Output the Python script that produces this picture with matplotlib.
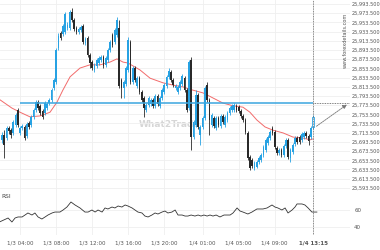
import numpy as np
import matplotlib.pyplot as plt
from matplotlib.patches import FancyArrowPatch
from matplotlib.ticker import FixedLocator, FuncFormatter

# 15-minute candles, 1/3 02:00 -> 1/4 13:15
opens = [25698, 25708, 25702, 25724, 25719, 25713, 25730, 25763, 25713, 25724,
         25726, 25706, 25735, 25730, 25748, 25763, 25780, 25772, 25761, 25756,
         25767, 25778, 25785, 25811, 25824, 25898, 25930, 25928, 25932, 25941,
         25941, 25976, 25959, 25941, 25932, 25937, 25945, 25909, 25919, 25882,
         25867, 25850, 25858, 25865, 25872, 25878, 25861, 25872, 25893, 25926,
         25911, 25926, 25941, 25828, 25811, 25819, 25850, 25911, 25824, 25854,
         25815, 25832, 25802, 25789, 25763, 25774, 25776, 25785, 25772, 25793,
         25772, 25789, 25802, 25815, 25835, 25845, 25828, 25811, 25802, 25811,
         25819, 25832, 25806, 25767, 25872, 25704, 25730, 25795, 25708, 25726,
         25745, 25817, 25785, 25730, 25745, 25724, 25745, 25728, 25750, 25730,
         25741, 25756, 25763, 25763, 25772, 25769, 25761, 25750, 25741, 25713,
         25661, 25654, 25637, 25639, 25650, 25654, 25665, 25676, 25691, 25702,
         25724, 25715, 25680, 25669, 25676, 25665, 25685, 25698, 25658, 25672,
         25689, 25702, 25704, 25698, 25704, 25713, 25706, 25704, 25726]
closes = [25708, 25687, 25724, 25717, 25708, 25737, 25752, 25730, 25724, 25728,
          25702, 25732, 25726, 25748, 25763, 25780, 25767, 25756, 25748, 25778,
          25776, 25785, 25806, 25828, 25893, 25924, 25919, 25945, 25972, 25948,
          25976, 25959, 25939, 25932, 25939, 25943, 25911, 25917, 25882, 25865,
          25854, 25861, 25872, 25876, 25878, 25858, 25876, 25893, 25911, 25904,
          25937, 25959, 25815, 25811, 25824, 25854, 25915, 25824, 25854, 25828,
          25832, 25802, 25785, 25767, 25774, 25789, 25785, 25772, 25793, 25776,
          25789, 25806, 25817, 25835, 25848, 25828, 25817, 25815, 25813, 25824,
          25837, 25806, 25763, 25867, 25704, 25737, 25795, 25726, 25726, 25745,
          25811, 25785, 25741, 25752, 25728, 25745, 25730, 25750, 25737, 25748,
          25756, 25767, 25772, 25774, 25763, 25761, 25750, 25741, 25715, 25658,
          25637, 25641, 25648, 25650, 25658, 25665, 25682, 25698, 25704, 25715,
          25713, 25682, 25669, 25676, 25665, 25685, 25698, 25661, 25676, 25687,
          25702, 25693, 25693, 25711, 25713, 25706, 25695, 25724, 25748]
highs = [25715, 25719, 25728, 25728, 25724, 25741, 25756, 25767, 25728, 25732,
         25730, 25737, 25739, 25752, 25767, 25785, 25785, 25776, 25765, 25782,
         25780, 25789, 25811, 25832, 25898, 25930, 25935, 25950, 25976, 25954,
         25980, 25985, 25963, 25945, 25943, 25948, 25950, 25922, 25924, 25887,
         25872, 25865, 25876, 25880, 25882, 25882, 25880, 25898, 25915, 25930,
         25941, 25965, 25959, 25832, 25828, 25858, 25922, 25915, 25858, 25858,
         25837, 25837, 25806, 25793, 25778, 25793, 25789, 25789, 25798, 25798,
         25793, 25811, 25822, 25839, 25854, 25850, 25832, 25819, 25817, 25828,
         25841, 25837, 25811, 25872, 25878, 25741, 25806, 25800, 25730, 25750,
         25815, 25824, 25789, 25756, 25750, 25750, 25750, 25754, 25754, 25752,
         25761, 25772, 25776, 25778, 25776, 25774, 25765, 25754, 25745, 25717,
         25665, 25658, 25652, 25654, 25663, 25669, 25687, 25702, 25708, 25719,
         25728, 25719, 25685, 25680, 25680, 25689, 25702, 25702, 25680, 25691,
         25706, 25706, 25708, 25715, 25717, 25717, 25711, 25728, 25752]
lows = [25691, 25658, 25698, 25711, 25702, 25708, 25726, 25726, 25708, 25719,
        25698, 25702, 25722, 25726, 25743, 25758, 25763, 25752, 25743, 25752,
        25763, 25774, 25780, 25806, 25819, 25893, 25915, 25924, 25928, 25937,
        25937, 25954, 25935, 25928, 25928, 25932, 25906, 25904, 25878, 25854,
        25850, 25845, 25854, 25861, 25867, 25854, 25856, 25867, 25889, 25900,
        25906, 25922, 25811, 25789, 25789, 25815, 25845, 25819, 25819, 25824,
        25811, 25798, 25780, 25748, 25758, 25769, 25772, 25767, 25767, 25772,
        25767, 25785, 25798, 25811, 25830, 25824, 25813, 25806, 25798, 25806,
        25815, 25802, 25758, 25763, 25676, 25700, 25726, 25722, 25687, 25722,
        25741, 25780, 25708, 25726, 25724, 25719, 25726, 25724, 25732, 25726,
        25737, 25752, 25758, 25758, 25758, 25756, 25745, 25737, 25711, 25654,
        25632, 25637, 25632, 25637, 25645, 25650, 25661, 25672, 25687, 25698,
        25708, 25678, 25665, 25665, 25661, 25661, 25680, 25656, 25650, 25667,
        25685, 25689, 25689, 25693, 25700, 25702, 25687, 25700, 25722]

# moving average (candle index, price)
ma_idx = [-0.9, 4.4, 8, 12.4, 16.9, 21.3, 24.4, 27, 30.2, 34.6, 39, 43.5, 47.9,
          51, 53.7, 55.9, 61.2, 65.7, 71.4, 75.9, 80.3, 84.7, 89.2, 93.6, 98,
          102.5, 106.9, 110, 113.1, 116.7, 120.2, 124.7, 129.1, 133.5, 136.6, 138]
ma_val = [25785, 25767, 25758, 25748, 25750, 25758, 25780, 25806, 25835, 25854,
          25861, 25861, 25867, 25874, 25867, 25865, 25850, 25832, 25822, 25817,
          25813, 25806, 25800, 25789, 25778, 25772, 25769, 25758, 25741, 25726,
          25719, 25713, 25704, 25702, 25698, 25700]

# RSI (candle index, value)
rsi_idx = [-0.9, 2.7, 4.4, 5.8, 7.1, 8.9, 10.2, 11.5, 13.3, 14.6, 16, 17.7, 19.1,
           20.4, 22.2, 23.5, 25.7, 27.1, 28.8, 30.6, 32.4, 34.6, 36.8, 38.2, 39.9,
           41.3, 42.6, 44.4, 45.7, 47, 48.8, 50.1, 51.5, 53.2, 54.6, 55.9, 57.7,
           59, 60.3, 62.1, 63.4, 64.8, 66.5, 67.9, 69.2, 71, 72.3, 73.6, 75.4,
           76.8, 78.1, 79.9, 81.2, 82.5, 83.9, 85.6, 87, 88.3, 89.6, 91, 92.3,
           93.6, 95, 96.7, 98.5, 101.2, 102.5, 104.3, 105.6, 106.9, 109.1, 110.9,
           113.1, 115.8, 117.6, 119.8, 121.1, 122.4, 124.2, 125.6, 126.9, 128.7,
           130, 130.9, 133.1, 134.4, 135.8, 137.5, 139.7]
rsi_val = [46.2, 50.6, 45.9, 50.6, 51.8, 51.8, 54.1, 56.5, 54.1, 56.5, 51.8, 49.4,
           51.8, 54.1, 56.5, 57.6, 57.6, 60, 63.5, 69.4, 65.9, 62.4, 57.6, 57.6,
           60, 57.6, 60, 57.6, 62.4, 61.2, 63.5, 62.4, 64.7, 63.5, 65.9, 64.7,
           62.4, 60, 57.6, 56.5, 52.9, 51.8, 54.1, 56.5, 55.3, 57.6, 58.8, 56.5,
           57.6, 60, 54.1, 54.1, 52.9, 52.9, 54.1, 52.9, 54.1, 52.9, 54.1, 52.9,
           54.1, 52.9, 54.1, 51.8, 54.1, 54.1, 56.5, 62.4, 58.8, 57.6, 55.3, 57.6,
           61.2, 61.2, 62.4, 65.9, 63.5, 62.4, 60, 62.4, 56.5, 60, 63.5, 67.1,
           67.1, 65.9, 62.4, 57.6, 57.6]

level = 25778
price_ticks = [25593.5 + 20 * k for k in range(21)]
time_pos = [8, 24, 40, 56, 72, 89, 105, 121, 138]
time_labels = ["1/3 04:00", "1/3 08:00", "1/3 12:00", "1/3 16:00", "1/3 20:00",
               "1/4 01:00", "1/4 05:00", "1/4 09:00", "1/4 13:15"]

blue = "#27a2e3"
dark = "#2a2a2a"

fig = plt.figure(figsize=(3.8, 2.5), dpi=100)
ax = fig.add_axes([0, 57 / 250, 350 / 380, 193 / 250])
rax = fig.add_axes([0, 15 / 250, 350 / 380, 42 / 250], sharex=ax)

o = np.array(opens)
c = np.array(closes)
x = np.arange(len(o))
up = c >= o
colors = np.where(up, blue, dark)
ax.vlines(x, lows, highs, colors=colors, linewidth=0.6, zorder=3)
body_lo = np.minimum(o, c)
body_h = np.maximum(np.abs(c - o), 1.5)
ax.bar(x[:-1], body_h[:-1], bottom=body_lo[:-1], width=0.75,
       color=colors[:-1], linewidth=0, zorder=4)
# last candle is still open: hollow
ax.bar(x[-1:], body_h[-1:], bottom=body_lo[-1:], width=0.75,
       facecolor="white", edgecolor=blue, linewidth=0.6, zorder=4)

ax.plot(ma_idx, ma_val, color="#f26b6b", linewidth=0.7, zorder=2)

last = x[-1]
ax.hlines(level, 8, last, color="#3aa6df", linewidth=1.1, zorder=5)
ax.hlines(level, last, 155, color="#555555", linewidth=0.6,
          linestyles=(0, (1, 1)), zorder=5)
arrow = FancyArrowPatch((last + 0.5, closes[-1] - 24), (154, level),
                        arrowstyle="-|>", color="#777777", lw=0.6,
                        linestyle=(0, (2, 1)), mutation_scale=6, zorder=6)
ax.add_patch(arrow)

for a in (ax, rax):
    a.axvline(last, color="#666666", linewidth=0.6, linestyle=(0, (1, 1)), zorder=6)
    for s in a.spines.values():
        s.set_visible(False)
    a.set_xlim(-0.89, 154.4)
    a.yaxis.tick_right()
    a.tick_params(axis="both", length=0, labelsize=3.6, labelcolor="#555555", pad=1.5)
    a.xaxis.set_major_locator(FixedLocator(time_pos))
    a.grid(True, color="#efefef", linewidth=0.6, zorder=0)

ax.set_ylim(25582.4, 26002)
ax.yaxis.set_major_locator(FixedLocator(price_ticks))
ax.yaxis.set_major_formatter(FuncFormatter(lambda v, p: f"{v:,.3f}"))
ax.tick_params(axis="x", labelbottom=False)

rax.plot(rsi_idx, rsi_val, color="#333333", linewidth=0.6, zorder=3)
rax.set_ylim(30.6, 80)
rax.yaxis.set_major_locator(FixedLocator([40, 60]))
rax.set_xticklabels(time_labels)
rax.tick_params(axis="x", labelsize=4.0, pad=4)
rax.tick_params(axis="y", labelsize=4.0, pad=3)
rax.get_xticklabels()[-1].set_fontweight("bold")
rax.text(0.005, 0.97, "RSI", transform=rax.transAxes, fontsize=4.2,
         color="#444444", va="top")

# watermark
ax.text(74.5, 25731, "What2Trade", fontsize=6.5, fontweight="bold",
        color="#d6d6d6", ha="center", va="center", zorder=1)
fig.text(345 / 380, 1 - 40 / 250, "www.forexdetails.com", rotation=90,
         fontsize=3.6, color="#555555", ha="center", va="center")

fig.savefig("out.png", dpi=100)
